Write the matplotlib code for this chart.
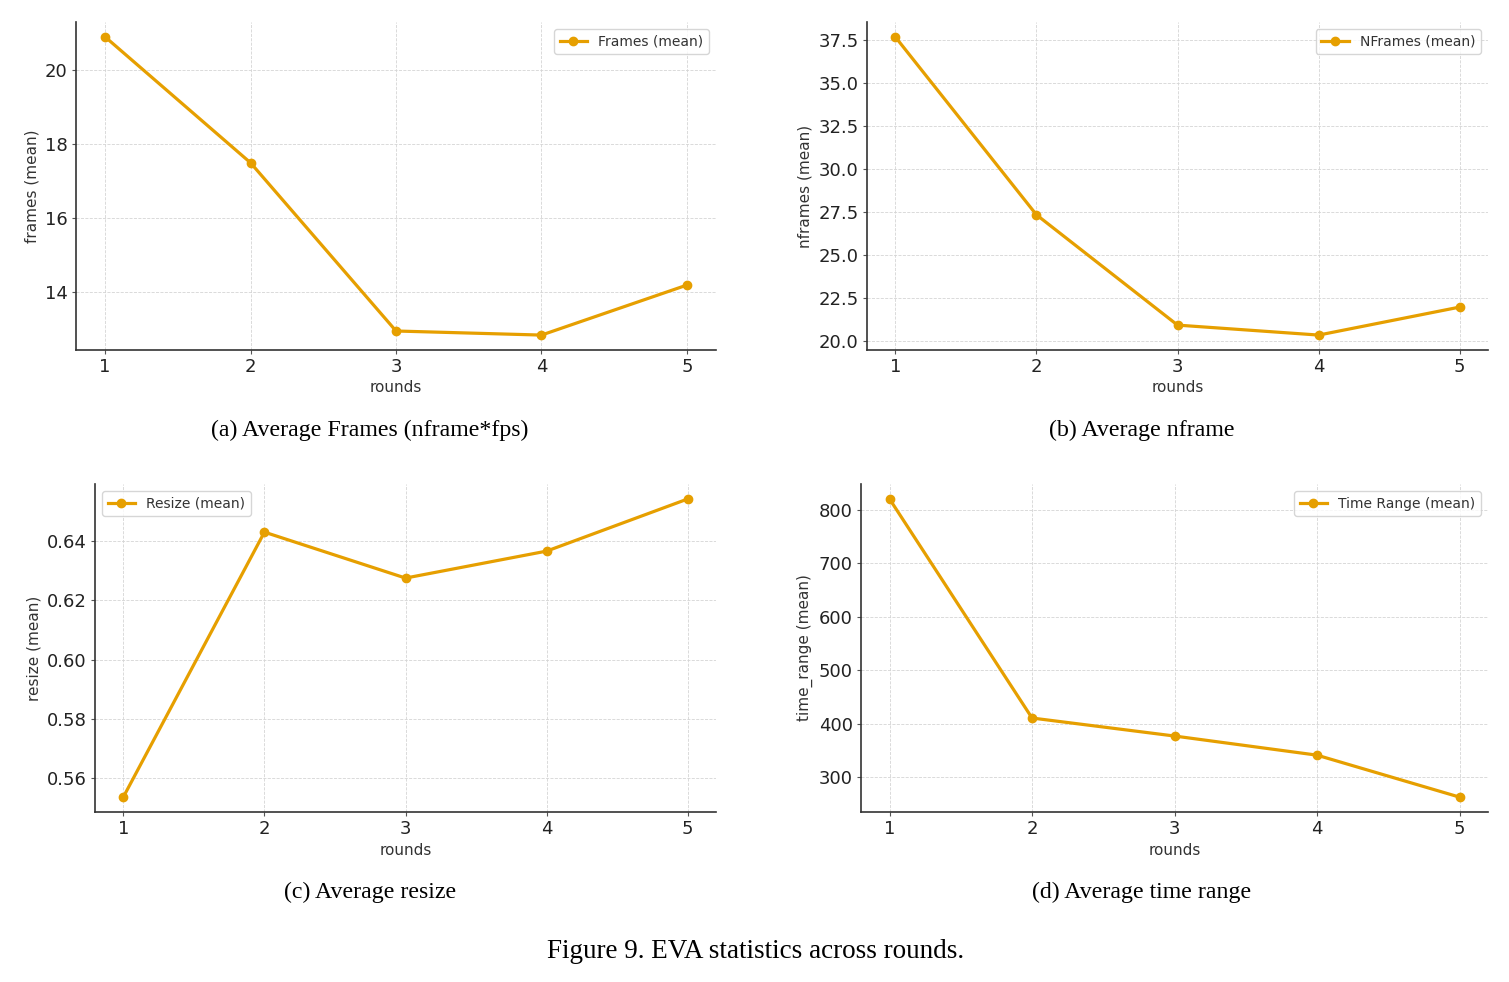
import matplotlib
matplotlib.use('Agg')
import matplotlib.pyplot as plt
from matplotlib.ticker import MultipleLocator

rounds = [1, 2, 3, 4, 5]
frames_mean = [20.89, 17.49, 12.95, 12.84, 14.19]
nframes_mean = [37.70, 27.35, 20.93, 20.35, 21.98]
resize_mean = [0.5536, 0.6430, 0.6275, 0.6366, 0.6542]
time_range_mean = [820.5, 410.5, 376.8, 341.0, 262.5]

panels = [
    # (values, legend label, ylabel, caption)
    (frames_mean, 'Frames (mean)', 'frames (mean)', '(a) Average Frames (nframe*fps)'),
    (nframes_mean, 'NFrames (mean)', 'nframes (mean)', '(b) Average nframe'),
    (resize_mean, 'Resize (mean)', 'resize (mean)', '(c) Average resize'),
    (time_range_mean, 'Time Range (mean)', 'time_range (mean)', '(d) Average time range'),
]
legend_loc = ['upper right', 'upper right', 'upper left', 'upper right']

# axes rectangles in figure fractions (left, bottom, width, height)
rects = [
    (0.0504, 0.6436, 0.4241, 0.334),
    (0.5746, 0.6436, 0.4115, 0.334),
    (0.0630, 0.1731, 0.4115, 0.334),
    (0.5706, 0.1731, 0.4155, 0.334),
]
caption_pos = [(370, 430), (1142, 430), (370, 892), (1142, 892)]

ORANGE = '#E69F00'
W, H = 1509, 982

fig = plt.figure(figsize=(W / 100, H / 100), dpi=100)

for i, ((vals, lab, ylab, cap), rect, loc, (cx, cy)) in enumerate(
        zip(panels, rects, legend_loc, caption_pos)):
    ax = fig.add_axes(rect)
    ax.plot(rounds, vals, color=ORANGE, linewidth=2.3, marker='o', markersize=6, label=lab)
    ax.set_xticks(rounds)
    if i == 0:
        ax.yaxis.set_major_locator(MultipleLocator(2))
    ax.grid(True, linestyle='--', linewidth=0.6, color='#d5d5d5')
    ax.set_axisbelow(True)
    for s in ('top', 'right'):
        ax.spines[s].set_visible(False)
    for s in ('left', 'bottom'):
        ax.spines[s].set_color('#333333')
        ax.spines[s].set_linewidth(1.2)
    ax.tick_params(labelsize=13, length=3, pad=3, color='#555555', labelcolor='#222222')
    ax.set_xlabel('rounds', fontsize=11, color='#333333', labelpad=3)
    ax.set_ylabel(ylab, fontsize=11, color='#333333')
    ax.legend(loc=loc, fontsize=10, frameon=True, edgecolor='#cccccc',
              labelcolor='#333333', fancybox=True)
    fig.text(cx / W, 1 - cy / H, cap, ha='center', va='center',
             fontsize=17.2, family='Liberation Serif')

fig.text(756 / W, 1 - 951 / H, 'Figure 9. EVA statistics across rounds.',
         ha='center', va='center', fontsize=19.5, family='Liberation Serif')

fig.savefig('out.png', dpi=100)
